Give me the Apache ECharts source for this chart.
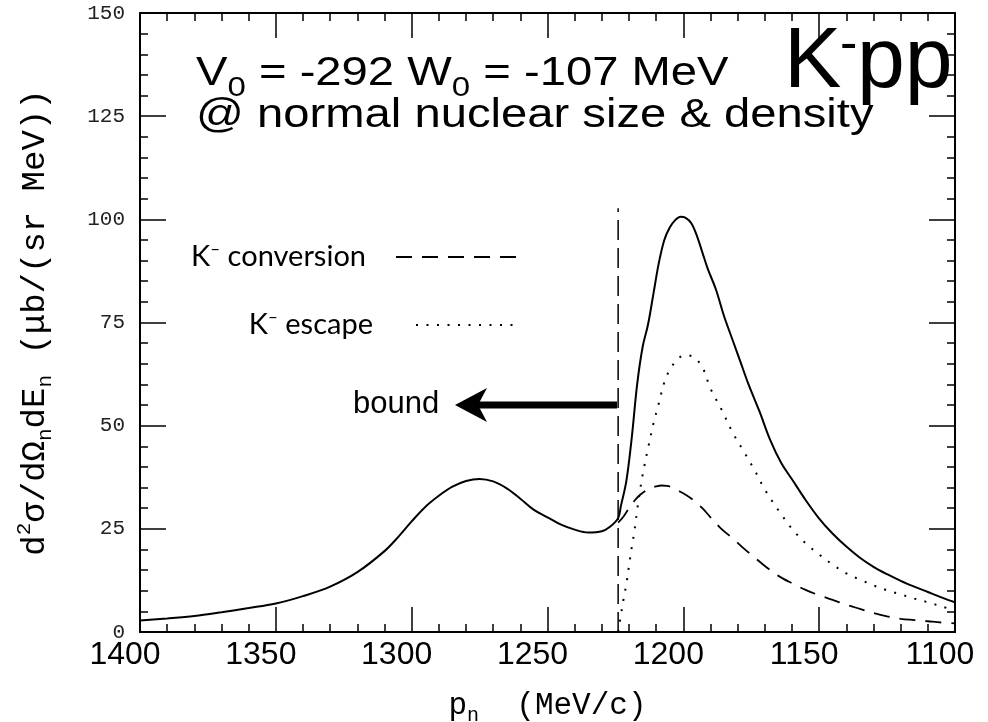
<!DOCTYPE html>
<html><head><meta charset="utf-8">
<script src="https://cdn.jsdelivr.net/npm/echarts@6/dist/echarts.min.js"></script>
<style>html,body{margin:0;padding:0;background:#fff}#c{width:988px;height:722px}</style>
</head><body><div id="c"></div>
<script>
// ---- data ----
const totalMomentum = [1400,1390,1380,1370,1360,1350,1340,1330,1320,1310,1305,1300,1295,1290,1285,1280,1275,1270,1265,1260,1255,1250,1245,1240,1235,1230,1227,1224,1223,1221,1219,1217,1215,1213,1211,1209,1207,1205,1203,1201,1199,1197,1195,1193,1191,1188,1185,1182,1179,1176,1172,1168,1164,1160,1155,1150,1145,1140,1135,1130,1125,1120,1115,1110,1105,1100];
const totalCross = [2.8,3.3,3.9,4.8,5.8,6.9,8.7,11.0,14.5,19.6,23.0,26.8,30.3,33.0,35.2,36.6,37.1,36.5,34.8,32.3,29.6,27.8,26.0,24.8,24.1,24.4,25.5,27.6,30.5,36.5,47.0,60.0,69.0,74.5,82.0,89.5,95.0,98.0,99.8,100.6,100.3,99.0,96.0,92.0,88.0,83.0,76.5,71.0,65.5,60.0,53.5,46.5,41.0,37.0,32.0,27.5,23.8,20.7,18.0,15.8,14.0,12.4,11.0,9.7,8.4,7.2];

const escapeMomentum = [1224,1223,1222,1221,1220,1219,1218,1217,1216,1215,1213,1211,1209,1207,1205,1202,1199,1196,1193,1190,1186,1182,1178,1174,1170,1165,1160,1155,1150,1145,1140,1135,1130,1125,1120,1115,1110,1105,1100];
const escapeCross = [0,4,8,11.5,16,20.5,24.5,29.5,34,38,44.5,50.5,55.5,60.5,63.5,66.2,67.1,66.5,64.2,59.0,54.0,48.5,44.0,39.5,34.5,29.5,25.0,21.5,18.8,16.3,14.2,12.7,11.3,10.1,9.1,8.1,7.2,6.2,5.2];

const conversionMomentum = [1224,1222,1220,1218,1216,1214,1212,1210,1208,1206,1204,1202,1199,1196,1193,1190,1186,1182,1178,1174,1170,1165,1160,1155,1150,1145,1140,1135,1130,1125,1120,1115,1110,1105,1100];
const conversionCross = [26.5,28.0,30.0,31.8,33.2,34.2,34.9,35.3,35.5,35.4,35.0,34.3,33.2,31.8,30.0,27.8,25.0,22.8,20.4,18.2,16.0,13.6,11.8,10.2,8.9,7.8,6.6,5.6,4.6,3.8,3.2,2.9,2.6,2.3,2.1];

const thresholdMomentum = [1224, 1224];
const thresholdCross = [0, 102.7];

const xRange = [1100, 1400];
const xStep = 50;
const yRange = [0, 150];
const yStep = 25;

const seriesNames = ['total', 'K\u207B conversion', 'K\u207B escape', 'threshold'];
// ----------------------------------------

const zip = (a, b) => a.map((v, i) => [v, b[i]]);
const BLACK = '#000';
const monoFont = "'Liberation Mono', 'DejaVu Sans Mono', monospace";
const sansFont = "'Liberation Sans', Arial, Helvetica, sans-serif";
const gillFont = "Lato, 'Open Sans', sans-serif";

function xAxisCfg(pos, main) {
  return {
    type: 'value', position: pos, min: xRange[0], max: xRange[1], interval: xStep, inverse: true,
    axisLine: { show: true, onZero: false, lineStyle: { color: BLACK, width: 2 } },
    axisTick: { show: true, inside: true, length: 25, lineStyle: { color: BLACK, width: 1.5 } },
    minorTick: { show: true, splitNumber: 5, length: 8, lineStyle: { color: BLACK, width: 1.5 } },
    splitLine: { show: false }, minorSplitLine: { show: false },
    axisLabel: main ? { show: true, showMinLabel: true, showMaxLabel: true, color: BLACK, fontSize: 32, fontFamily: sansFont,
      margin: 7, padding: [0, 30, 0, 0], formatter: v => String(v) } : { show: false },
    name: main ? '{m|p}{sub|n}{m|  (MeV/c)}' : '',
    nameLocation: 'middle', nameGap: 58,
    nameTextStyle: { rich: {
      m: { fontSize: 31, fontFamily: monoFont, color: BLACK, lineHeight: 36, verticalAlign: 'top' },
      sub: { fontSize: 20, fontFamily: monoFont, color: BLACK, lineHeight: 22, verticalAlign: 'bottom' }
    } }
  };
}
function yAxisCfg(pos, main) {
  return {
    type: 'value', position: pos, min: yRange[0], max: yRange[1], interval: yStep,
    axisLine: { show: true, onZero: false, lineStyle: { color: BLACK, width: 2 } },
    axisTick: { show: true, inside: true, length: 26, lineStyle: { color: BLACK, width: 1.5 } },
    minorTick: { show: true, splitNumber: 5, length: 8, lineStyle: { color: BLACK, width: 1.5 } },
    splitLine: { show: false }, minorSplitLine: { show: false },
    axisLabel: main ? { show: true, color: '#222', fontSize: 21, fontFamily: monoFont, margin: 15, formatter: v => String(v) } : { show: false },
    name: main ? '{m|d}{sup|2}{m|\u03C3/d\u03A9}{sub|n}{m|dE}{sub|n}{m| (\u03BCb/(sr MeV))}' : '',
    nameLocation: 'middle', nameGap: 84,
    nameTextStyle: { rich: {
      m: { fontSize: 34, fontFamily: monoFont, color: BLACK, lineHeight: 42 },
      sup: { fontSize: 21, fontFamily: monoFont, color: BLACK, lineHeight: 21, verticalAlign: 'top' },
      sub: { fontSize: 21, fontFamily: monoFont, color: BLACK, lineHeight: 21, verticalAlign: 'bottom' }
    } }
  };
}

function legendLabel(name) {
  const rest = name.replace('K\u207B', '');
  return '{t|K}{s|\u2013}{t|' + rest + '}';
}
const legendRich = {
  t: { fontSize: 29, fontFamily: gillFont, color: BLACK, lineHeight: 32 },
  s: { fontSize: 17, fontFamily: gillFont, color: BLACK, lineHeight: 18, verticalAlign: 'top' }
};
const hiddenSymbol = { color: 'rgba(0,0,0,0)', borderColor: 'rgba(0,0,0,0)', borderWidth: 0 };

const chart = echarts.init(document.getElementById('c'), null, { renderer: 'canvas' });
chart.setOption({
  animation: false,
  backgroundColor: '#fff',
  grid: { left: 140, right: 33, top: 13, bottom: 90, containLabel: false, outerBoundsMode: 'none' },
  xAxis: [xAxisCfg('bottom', true), xAxisCfg('top', false)],
  yAxis: [yAxisCfg('left', true), yAxisCfg('right', false)],
  legend: [
    { data: [seriesNames[1]], right: 466, top: 241, padding: 0, align: 'right', itemWidth: 125, itemHeight: 14,
      itemStyle: hiddenSymbol, formatter: legendLabel, textStyle: { rich: legendRich, padding: [0, 25, 0, 0] }, selectedMode: false },
    { data: [seriesNames[2]], right: 466, top: 309, padding: 0, align: 'right', itemWidth: 105, itemHeight: 14,
      itemStyle: hiddenSymbol, formatter: legendLabel, textStyle: { rich: legendRich, padding: [0, 38, 0, 0] }, selectedMode: false }
  ],
  series: [
    { name: seriesNames[0], type: 'line', data: zip(totalMomentum, totalCross), symbol: 'none', smooth: 0.35,
      lineStyle: { color: BLACK, width: 2 }, silent: true },
    { name: seriesNames[1], type: 'line', data: zip(conversionMomentum, conversionCross), symbol: 'none', smooth: 0.35,
      itemStyle: { color: BLACK }, lineStyle: { color: BLACK, width: 1.8, type: [16, 10] }, silent: true },
    { name: seriesNames[2], type: 'line', data: zip(escapeMomentum, escapeCross), symbol: 'none', smooth: 0.35,
      itemStyle: { color: BLACK }, lineStyle: { color: BLACK, width: 2, type: [2, 8.5] }, silent: true },
    { name: seriesNames[3], type: 'line', data: zip(thresholdMomentum, thresholdCross), symbol: 'none',
      lineStyle: { color: BLACK, width: 1.5, type: [20, 8] }, silent: true }
  ],
  graphic: [
    { type: 'text', x: 196, y: 46, scaleX: 1.18, silent: true,
      style: { text: '{a|V}{b|0}{a| = -292 W}{b|0}{a| = -107 MeV}', verticalAlign: 'top', align: 'left',
        rich: { a: { fontSize: 40, fontFamily: sansFont, fill: BLACK, lineHeight: 56 },
                b: { fontSize: 28, fontFamily: sansFont, fill: BLACK, lineHeight: 30, verticalAlign: 'bottom' } } } },
    { type: 'text', x: 196, y: 116, scaleX: 1.18, silent: true,
      style: { text: '@ normal nuclear size & density', font: '40px ' + sansFont, fill: BLACK, verticalAlign: 'middle', align: 'left' } },
    { type: 'text', x: 784, y: 63, silent: true,
      style: { text: 'K', font: '86px ' + sansFont, fill: BLACK, verticalAlign: 'middle', align: 'left' } },
    { type: 'text', x: 840, y: 46, silent: true,
      style: { text: '-', font: '52px ' + sansFont, fill: BLACK, verticalAlign: 'middle', align: 'left' } },
    { type: 'text', x: 857, y: 63, silent: true,
      style: { text: 'pp', font: '86px ' + sansFont, fill: BLACK, verticalAlign: 'middle', align: 'left' } },
    { type: 'text', x: 353, y: 404, silent: true,
      style: { text: 'bound', font: '31px ' + sansFont, fill: BLACK, verticalAlign: 'middle', align: 'left' } },
    { type: 'rect', silent: true, shape: { x: 478, y: 401.5, width: 139, height: 7 }, style: { fill: BLACK } },
    { type: 'polygon', silent: true, shape: { points: [[455, 405], [487, 388], [478, 405], [487, 422]] }, style: { fill: BLACK } }
  ]
});
</script></body></html>
